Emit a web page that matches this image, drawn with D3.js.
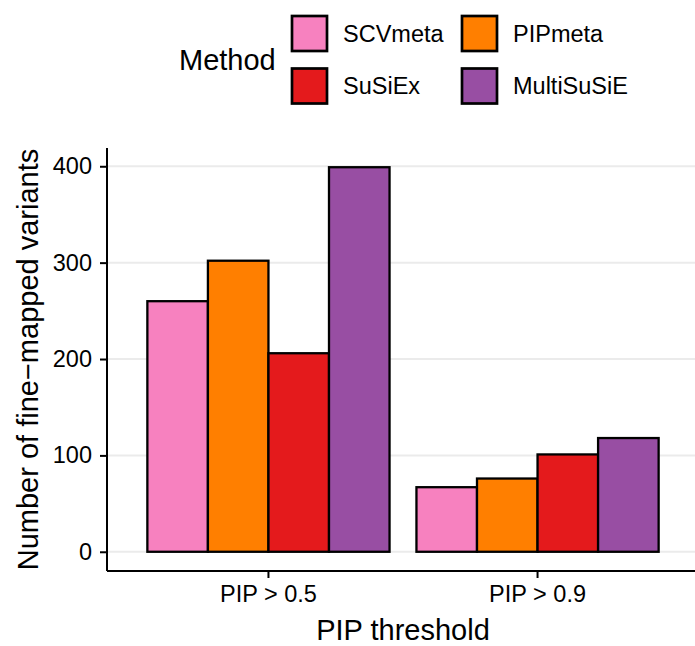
<!DOCTYPE html>
<html>
<head>
<meta charset="utf-8">
<script src="https://cdn.jsdelivr.net/npm/d3@7"></script>
<style>
  html, body { margin: 0; padding: 0; background: #fff; }
  svg { display: block; }
  text { font-family: "Liberation Sans", Arial, Helvetica, sans-serif; fill: #000; }
</style>
</head>
<body>
<svg id="chart" width="695" height="646"></svg>
<script>
// ---- data ----
const thresholds = ["PIP > 0.5", "PIP > 0.9"];
const methods = ["SCVmeta", "PIPmeta", "SuSiEx", "MultiSuSiE"];
const colors = ["#F781BF", "#FF7F00", "#E41A1C", "#984EA3"];
const valuesSCVmeta = [260, 67];
const valuesPIPmeta = [302, 76];
const valuesSuSiEx = [206, 101];
const valuesMultiSuSiE = [399, 118];
const yTicks = [0, 100, 200, 300, 400];

const seriesValues = [valuesSCVmeta, valuesPIPmeta, valuesSuSiEx, valuesMultiSuSiE];
const rows = [];
thresholds.forEach((t, i) => methods.forEach((m, j) => rows.push({t, m, v: seriesValues[j][i]})));

// ---- layout ----
const svg = d3.select("#chart");
const panel = {left: 107, top: 148, bottom: 571, right: 699};

const x = d3.scaleBand().domain(thresholds)
  .range([panel.left, panel.right]).paddingInner(0.1).paddingOuter(0.15);
const xInner = d3.scaleBand().domain(methods).range([0, x.bandwidth()]);
const yMax = d3.max(rows, d => d.v);
const pad = yMax * 0.05;
const y = d3.scaleLinear().domain([-pad, yMax + pad]).range([panel.bottom, panel.top]);
const color = d3.scaleOrdinal().domain(methods).range(colors);

// grid lines
svg.append("g").selectAll("line").data(yTicks).join("line")
  .attr("x1", panel.left).attr("x2", 695)
  .attr("y1", d => y(d)).attr("y2", d => y(d))
  .attr("stroke", "#ebebeb").attr("stroke-width", 2);

// bars
svg.append("g").selectAll("rect").data(rows).join("rect")
  .attr("x", d => x(d.t) + xInner(d.m))
  .attr("width", xInner.bandwidth())
  .attr("y", d => y(d.v))
  .attr("height", d => y(0) - y(d.v))
  .attr("fill", d => color(d.m))
  .attr("stroke", "#000").attr("stroke-width", 2.3);

// y axis
const yAxis = svg.append("g").attr("transform", `translate(${panel.left},0)`)
  .call(d3.axisLeft(y).tickValues(yTicks).tickSize(7).tickPadding(8));
yAxis.select(".domain").attr("d", `M0,${panel.top}V${panel.bottom}`).attr("stroke-width", 2);
yAxis.selectAll(".tick line").attr("stroke-width", 2);
yAxis.selectAll(".tick text").attr("font-size", 23.5).attr("font-family", null);

// x axis
const xAxis = svg.append("g").attr("transform", `translate(0,${panel.bottom})`)
  .call(d3.axisBottom(x).tickSize(7).tickPadding(7));
xAxis.select(".domain").attr("d", `M${panel.left},0H695`).attr("stroke-width", 2);
xAxis.selectAll(".tick line").attr("stroke-width", 2);
xAxis.selectAll(".tick text").attr("font-size", 23.5).attr("font-family", null);

// axis titles
svg.append("text").attr("x", (panel.left + panel.right) / 2).attr("y", 640)
  .attr("text-anchor", "middle").attr("font-size", 29).text("PIP threshold");
svg.append("text").attr("transform", `translate(38,${(panel.top + panel.bottom) / 2}) rotate(-90)`)
  .attr("text-anchor", "middle").attr("font-size", 29).text("Number of fine\u2212mapped variants");

// legend
const legend = svg.append("g");
legend.append("text").attr("x", 179).attr("y", 70).attr("font-size", 29).text("Method");
const keyX = [292, 462], keyY = [16, 68.5], keySize = 35;
methods.forEach((m, i) => {
  const col = i % 2, row = Math.floor(i / 2);
  legend.append("rect")
    .attr("x", keyX[col]).attr("y", keyY[row])
    .attr("width", keySize).attr("height", keySize)
    .attr("fill", color(m)).attr("stroke", "#000").attr("stroke-width", 2.7);
  legend.append("text")
    .attr("x", keyX[col] + 51).attr("y", keyY[row] + keySize / 2)
    .attr("dy", "0.35em").attr("font-size", 23.5).text(m);
});
</script>
</body>
</html>
